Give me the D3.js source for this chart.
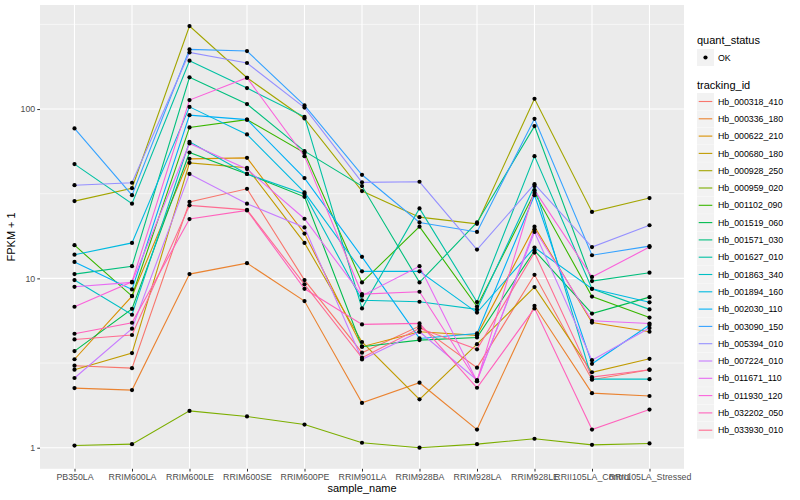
<!DOCTYPE html>
<html>
<head>
<meta charset="utf-8">
<script src="https://cdn.jsdelivr.net/npm/d3@7"></script>
<style>
  body { margin: 0; background: #fff; }
  text { font-family: "Liberation Sans", Arial, sans-serif; }
</style>
</head>
<body>
<svg id="chart" width="800" height="500"></svg>
<script>
// Categorías del eje x
const samples = ['PB350LA', 'RRIM600LA', 'RRIM600LE', 'RRIM600SE', 'RRIM600PE', 'RRIM901LA',
  'RRIM928BA', 'RRIM928LA', 'RRIM928LE', 'RRII105LA_Control', 'RRII105LA_Stressed'];

// FPKM + 1 por gen
const Hb_000318_410 = [3.05, 2.95, 28.3, 33.8, 9.77, 3.64, 5.23, 2.97, 10.5, 2.52, 2.89];
const Hb_000336_180 = [2.25, 2.19, 10.6, 12.3, 7.35, 1.84, 2.42, 1.28, 6.89, 2.10, 2.02];
const Hb_000622_210 = [3.33, 7.86, 50.8, 51.5, 18.4, 3.95, 4.84, 4.61, 20.2, 5.48, 4.84];
const Hb_000680_180 = [2.89, 3.62, 48.1, 45.0, 16.2, 4.21, 1.93, 4.09, 8.88, 2.79, 3.35];
const Hb_000928_250 = [28.6, 34.1, 309, 153, 88.0, 32.8, 23.0, 21.0, 115, 24.7, 29.8];
const Hb_000959_020 = [1.03, 1.05, 1.65, 1.53, 1.37, 1.07, 1.00, 1.05, 1.13, 1.04, 1.06];
const Hb_001102_090 = [15.7, 7.86, 77.9, 86.6, 55.1, 9.47, 20.2, 6.82, 32.0, 7.81, 5.87];
const Hb_001519_060 = [3.72, 6.61, 55.4, 41.4, 30.3, 3.95, 4.32, 4.48, 14.6, 6.20, 7.75];
const Hb_001571_030 = [10.6, 11.8, 154, 107, 56.4, 35.1, 9.47, 21.4, 79.3, 9.64, 10.8];
const Hb_001627_010 = [47.3, 27.6, 193, 133, 89.9, 6.65, 25.9, 7.25, 52.7, 8.68, 6.56];
const Hb_001863_340 = [9.77, 6.10, 64.0, 41.4, 31.5, 7.42, 7.28, 6.56, 35.1, 2.54, 2.54];
const Hb_001894_160 = [13.8, 16.2, 103, 70.8, 32.2, 11.0, 11.0, 6.28, 15.2, 8.68, 7.22];
const Hb_002030_110 = [12.5, 8.61, 92.0, 86.6, 39.1, 13.4, 4.42, 4.73, 31.0, 3.13, 5.30];
const Hb_003090_150 = [76.8, 31.0, 225, 220, 105, 40.9, 21.4, 18.8, 87.5, 13.7, 15.5];
const Hb_005394_010 = [35.5, 36.7, 216, 187, 102, 36.9, 37.2, 14.8, 36.0, 15.3, 20.6];
const Hb_007224_010 = [2.58, 5.05, 41.4, 27.6, 20.0, 3.32, 4.84, 2.51, 18.8, 3.29, 5.09];
const Hb_011671_110 = [8.92, 9.47, 62.6, 44.2, 22.5, 7.91, 11.8, 2.47, 19.5, 5.62, 5.41];
const Hb_011930_120 = [6.80, 9.55, 113, 153, 52.7, 8.08, 8.34, 2.47, 33.2, 10.2, 15.3];
const Hb_032202_050 = [4.71, 5.47, 22.4, 25.2, 8.68, 5.35, 5.42, 2.26, 6.65, 1.28, 1.68];
const Hb_033930_010 = [4.36, 4.63, 27.0, 25.4, 9.22, 3.40, 5.07, 3.81, 14.2, 2.61, 2.89];

const trackingIds = ['Hb_000318_410', 'Hb_000336_180', 'Hb_000622_210', 'Hb_000680_180', 'Hb_000928_250',
  'Hb_000959_020', 'Hb_001102_090', 'Hb_001519_060', 'Hb_001571_030', 'Hb_001627_010',
  'Hb_001863_340', 'Hb_001894_160', 'Hb_002030_110', 'Hb_003090_150', 'Hb_005394_010',
  'Hb_007224_010', 'Hb_011671_110', 'Hb_011930_120', 'Hb_032202_050', 'Hb_033930_010'];
const seriesValues = [Hb_000318_410, Hb_000336_180, Hb_000622_210, Hb_000680_180, Hb_000928_250,
  Hb_000959_020, Hb_001102_090, Hb_001519_060, Hb_001571_030, Hb_001627_010,
  Hb_001863_340, Hb_001894_160, Hb_002030_110, Hb_003090_150, Hb_005394_010,
  Hb_007224_010, Hb_011671_110, Hb_011930_120, Hb_032202_050, Hb_033930_010];

// Paleta por defecto de ggplot para 20 niveles
const lineColors = ['#F8766D', '#EA8331', '#D89000', '#C09B00', '#A3A500', '#7CAE00', '#39B600', '#00BB4E',
  '#00BF7D', '#00C1A3', '#00BFC4', '#00BAE0', '#00B0F6', '#35A2FF', '#9590FF', '#C77CFF',
  '#E76BF3', '#FA62DB', '#FF62BC', '#FF6C91'];

const yTicks = [1, 10, 100];
const yMinorTicks = [Math.pow(10, 0.5), Math.pow(10, 1.5), Math.pow(10, 2.5)];

const margin = { top: 5, right: 116, bottom: 31.2, left: 40 };
const width = 800 - margin.left - margin.right;
const height = 500 - margin.top - margin.bottom;

const svg = d3.select('#chart');
svg.append('rect').attr('width', 800).attr('height', 500).attr('fill', '#fff');

const g = svg.append('g').attr('transform', `translate(${margin.left},${margin.top})`);

// Escalas (expansión tipo ggplot)
const x = d3.scalePoint().domain(samples).range([0, width]).padding(0.6);
const allVals = seriesValues.flat();
const lo = Math.log10(d3.min(allVals)), hi = Math.log10(d3.max(allVals));
const pad = (hi - lo) * 0.05;
const y = d3.scaleLog().domain([Math.pow(10, lo - pad), Math.pow(10, hi + pad)]).range([height, 0]);

// Panel
g.append('rect').attr('width', width).attr('height', height).attr('fill', '#EBEBEB');

g.selectAll('.minor').data(yMinorTicks).enter().append('line')
  .attr('x1', 0).attr('x2', width)
  .attr('y1', d => y(d)).attr('y2', d => y(d))
  .attr('stroke', '#fff').attr('stroke-width', 0.55);

g.selectAll('.majorY').data(yTicks).enter().append('line')
  .attr('x1', 0).attr('x2', width)
  .attr('y1', d => y(d)).attr('y2', d => y(d))
  .attr('stroke', '#fff').attr('stroke-width', 1.1);

g.selectAll('.majorX').data(samples).enter().append('line')
  .attr('x1', d => x(d)).attr('x2', d => x(d))
  .attr('y1', 0).attr('y2', height)
  .attr('stroke', '#fff').attr('stroke-width', 1.1);

// Líneas
const line = d3.line().x((d, i) => x(samples[i])).y(d => y(d));
seriesValues.forEach((vals, k) => {
  g.append('path').datum(vals)
    .attr('d', line)
    .attr('fill', 'none')
    .attr('stroke', lineColors[k])
    .attr('stroke-width', 1.1);
});

// Puntos
seriesValues.forEach(vals => {
  g.selectAll(null).data(vals).enter().append('circle')
    .attr('cx', (d, i) => x(samples[i]))
    .attr('cy', d => y(d))
    .attr('r', 2.1)
    .attr('fill', '#000');
});

// Ejes
const yAxis = g.append('g')
  .call(d3.axisLeft(y).tickValues(yTicks).tickFormat(d3.format('d')).tickSize(2.75).tickPadding(2));
const xAxis = g.append('g').attr('transform', `translate(0,${height})`)
  .call(d3.axisBottom(x).tickSize(2.75).tickPadding(2));
[yAxis, xAxis].forEach(a => {
  a.select('.domain').remove();
  a.selectAll('line').attr('stroke', '#333');
  a.selectAll('text').attr('fill', '#4D4D4D').style('font-size', '8.8px')
    .style('font-family', '"Liberation Sans", Arial, sans-serif');
});

svg.append('text')
  .attr('x', margin.left + width / 2).attr('y', 492)
  .attr('text-anchor', 'middle').style('font-size', '11px').attr('fill', '#000')
  .text('sample_name');

svg.append('text')
  .attr('transform', `translate(15,${margin.top + height / 2}) rotate(-90)`)
  .attr('text-anchor', 'middle').style('font-size', '11px').attr('fill', '#000')
  .text('FPKM + 1');

// Leyendas
const legX = 697;
svg.append('text').attr('x', legX).attr('y', 44).style('font-size', '11px').text('quant_status');
svg.append('rect').attr('x', legX).attr('y', 49).attr('width', 17).attr('height', 17).attr('fill', '#F2F2F2');
svg.append('circle').attr('cx', legX + 8.5).attr('cy', 57.5).attr('r', 2.1).attr('fill', '#000');
svg.append('text').attr('x', legX + 21).attr('y', 60.5).style('font-size', '8.8px').text('OK');

svg.append('text').attr('x', legX).attr('y', 89).style('font-size', '11px').text('tracking_id');
const keyH = 17.3, keyTop = 93;
const keys = svg.append('g').selectAll('g').data(trackingIds).enter().append('g')
  .attr('transform', (d, i) => `translate(${legX},${keyTop + i * keyH})`);
keys.append('rect').attr('width', 17).attr('height', 17).attr('fill', '#F2F2F2');
keys.append('line').attr('x1', 1.7).attr('x2', 15.3).attr('y1', 8.5).attr('y2', 8.5)
  .attr('stroke', (d, i) => lineColors[i]).attr('stroke-width', 1.1);
keys.append('text').attr('x', 21).attr('y', 11.7).style('font-size', '8.8px').attr('fill', '#000')
  .text(d => d);
</script>
</body>
</html>
